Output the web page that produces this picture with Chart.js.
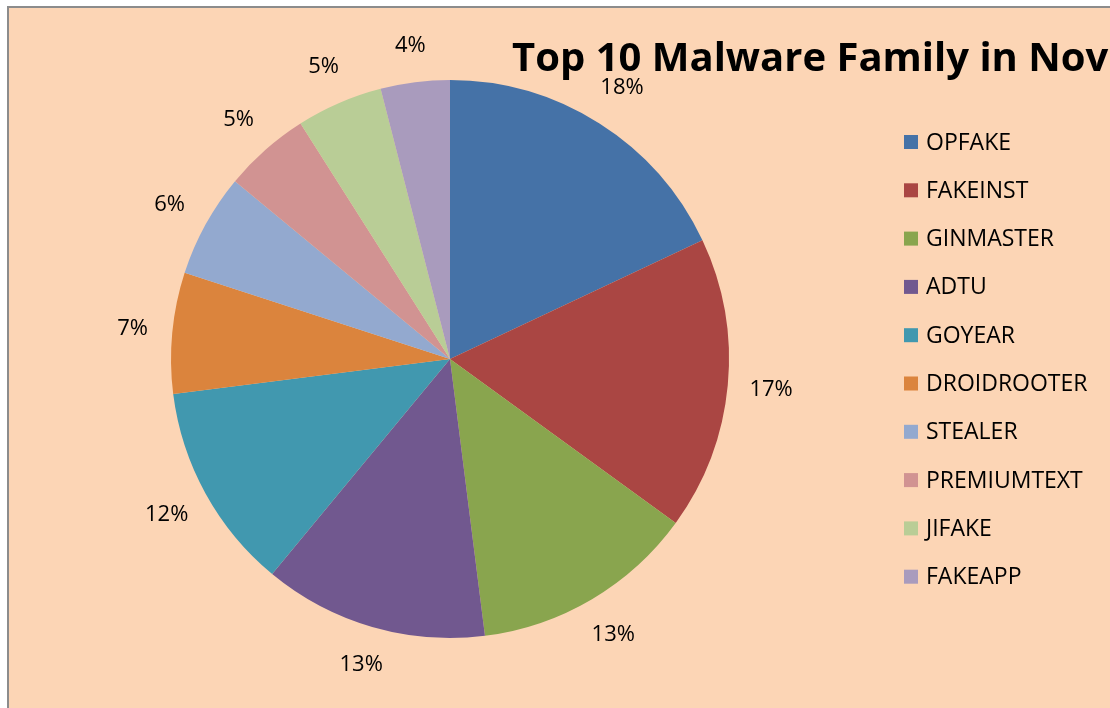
<!DOCTYPE html>
<html>
<head>
<meta charset="utf-8">
<title>Top 10 Malware Family in Nov</title>
<script src="https://cdn.jsdelivr.net/npm/chart.js@4.4.0/dist/chart.umd.min.js"></script>
<style>
  html, body { margin: 0; padding: 0; background: #ffffff; }
  #wrap { width: 1110px; height: 708px; }
</style>
</head>
<body>
<div id="wrap"><canvas id="malware" width="1110" height="708"></canvas></div>
<script>
// data
const familias = ['OPFAKE', 'FAKEINST', 'GINMASTER', 'ADTU', 'GOYEAR',
                  'DROIDROOTER', 'STEALER', 'PREMIUMTEXT', 'JIFAKE', 'FAKEAPP'];
const percentuais = [18, 17, 13, 13, 12, 7, 6, 5, 5, 4];
const cores = ['#4572A7', '#AA4643', '#89A54E', '#71588F', '#4198AF',
               '#DB843D', '#93A9CF', '#D19392', '#B9CD96', '#A99BBD'];
const titulo = 'Top 10 Malware Family in Nov';

const fonte = '"Open Sans", "Noto Sans", sans-serif';

// fundo e moldura do grafico
const fundoPlugin = {
  id: 'fundo',
  beforeDraw(chart) {
    const ctx = chart.ctx;
    ctx.save();
    ctx.fillStyle = '#ffffff';
    ctx.fillRect(0, 0, chart.width, chart.height);
    ctx.fillStyle = '#FCD5B5';
    ctx.fillRect(8, 7, chart.width - 8, chart.height - 7);
    ctx.strokeStyle = '#8c8c8c';
    ctx.lineWidth = 2;
    ctx.beginPath();
    ctx.moveTo(8, chart.height);
    ctx.lineTo(8, 7);
    ctx.lineTo(chart.width, 7);
    ctx.stroke();
    ctx.restore();
  }
};

// rotulos de percentual fora das fatias
const rotulosPlugin = {
  id: 'rotulos',
  afterDatasetsDraw(chart) {
    const ctx = chart.ctx;
    const meta = chart.getDatasetMeta(0);
    ctx.save();
    ctx.font = '22px ' + fonte;
    ctx.fillStyle = '#000000';
    ctx.textAlign = 'center';
    ctx.textBaseline = 'middle';
    meta.data.forEach(function (arc, i) {
      const p = arc.getProps(['x', 'y', 'startAngle', 'endAngle', 'outerRadius'], true);
      const meio = (p.startAngle + p.endAngle) / 2;
      const texto = percentuais[i] + '%';
      const meiaLarg = ctx.measureText(texto).width / 2;
      const cx = Math.cos(meio), cy = Math.sin(meio);
      const dist = p.outerRadius + 30 + Math.abs(cx) * meiaLarg * 0.6 + Math.abs(cy) * 6;
      ctx.fillText(texto, p.x + cx * dist, p.y + cy * dist);
    });
    ctx.restore();
  }
};

// titulo e legenda desenhados a mao
const legendaPlugin = {
  id: 'legendaManual',
  afterDraw(chart) {
    const ctx = chart.ctx;
    ctx.save();
    ctx.fillStyle = '#000000';
    ctx.font = 'bold 40px ' + fonte;
    ctx.textAlign = 'left';
    ctx.textBaseline = 'alphabetic';
    ctx.fillText(titulo, 512, 71);

    ctx.font = '23px ' + fonte;
    ctx.textBaseline = 'middle';
    for (let i = 0; i < familias.length; i++) {
      const y = 142 + i * 48.3;
      ctx.fillStyle = cores[i];
      ctx.fillRect(904, y - 7, 14, 14);
      ctx.fillStyle = '#000000';
      ctx.fillText(familias[i], 926, y + 1);
    }
    ctx.restore();
  }
};

const ctx = document.getElementById('malware').getContext('2d');
const grafico = new Chart(ctx, {
  type: 'pie',
  data: {
    labels: familias,
    datasets: [{
      data: percentuais,
      backgroundColor: cores,
      borderWidth: 0
    }]
  },
  options: {
    responsive: false,
    animation: false,
    layout: { padding: { left: 171, right: 381, top: 80, bottom: 70 } },
    plugins: {
      legend: { display: false },
      title: { display: false },
      tooltip: { enabled: false }
    }
  },
  plugins: [fundoPlugin, rotulosPlugin, legendaPlugin]
});
</script>
</body>
</html>
